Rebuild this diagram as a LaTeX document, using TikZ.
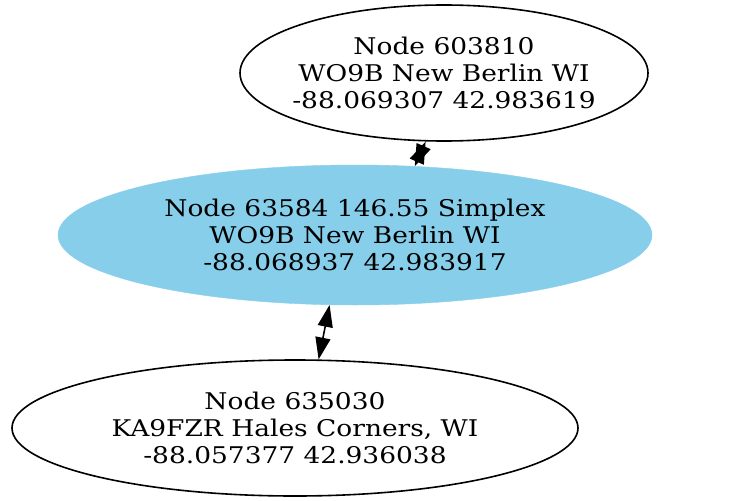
\documentclass[tikz,border=0pt]{standalone}
\usepackage{fontspec}
\setmainfont[FakeStretch=1.15]{DejaVu Serif}
\usetikzlibrary{shapes.geometric,arrows.meta}
\definecolor{skyblue}{HTML}{87CEEB}
\begin{document}
\begin{tikzpicture}[x=1pt,y=-1pt,
  caption/.style={align=center,inner sep=0pt,
    font=\fontsize{23}{27}\selectfont},
  vertex/.style={ellipse,inner sep=0pt},
  plain/.style={vertex,draw=black,line width=1.6pt},
  hub/.style={vertex,fill=skyblue,draw=skyblue},
  link/.style={line width=1.6pt,
    {Triangle[length=22pt,width=15pt]}-{Triangle[length=22pt,width=15pt]}}]
\useasboundingbox (0,0) rectangle (735,500);
\node[plain,minimum width=408pt,minimum height=136pt,
  label={[caption]center:Node 603810\\WO9B New Berlin WI\\-88.069307 42.983619}]
  (n603810) at (444,73) {};
\node[hub,minimum width=594pt,minimum height=140pt,
  label={[caption]center:Node 63584 146.55 Simplex\\WO9B New Berlin WI\\-88.068937 42.983917}]
  (n63584) at (355,235) {};
\node[plain,minimum width=566pt,minimum height=136pt,
  label={[caption]center:Node 635030\\KA9FZR Hales Corners, WI\\-88.057377 42.936038}]
  (n635030) at (295,428) {};
\draw[link] (n603810.-105) -- (n63584.49);
\draw[link] (n63584.-110) -- (n635030.71);
\end{tikzpicture}
\end{document}
